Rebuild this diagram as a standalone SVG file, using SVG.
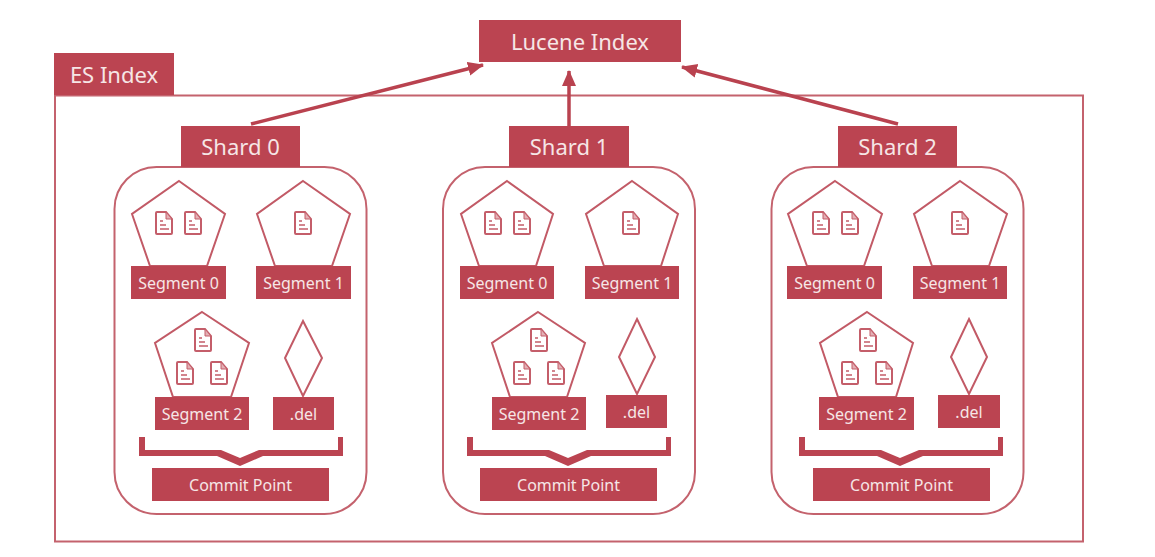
<svg xmlns="http://www.w3.org/2000/svg" xmlns:xlink="http://www.w3.org/1999/xlink" width="1155" height="557" viewBox="0 0 1155 557">
<style>
.b{fill:#bb4451}
.o{fill:none;stroke:#c4626d;stroke-width:2}
.p{fill:#fff;stroke:#c25a66;stroke-width:2;stroke-linejoin:miter}
.c{fill:none;stroke:#b9424f;stroke-width:3.5}
text{font-family:"Noto Sans","Open Sans","Liberation Sans",sans-serif;fill:#f6e6e6;text-anchor:middle}
.t1{font-size:22px}
.t2{font-size:16px}
.t3{font-size:16px}
</style>
<defs>
<marker id="ah" markerWidth="20" markerHeight="18" refX="15" refY="7" orient="auto" markerUnits="userSpaceOnUse"><path d="M0 0L16 7L0 14Z" fill="#b9424f"/></marker>
<g id="doc" fill="none" stroke="#c45e6a" stroke-width="2"><path d="M1 2Q1 1 2 1H11L17 8V22Q17 23 16 23H2Q1 23 1 22Z"/><path d="M11 1L17 8H11Z" fill="#e3b0b5" stroke-width="1"/><path d="M5 10H8M5 14H11M5 18H14" stroke-width="1.500"/></g>
<g id="brace"><path class="b" d="M0 0H6V13H82L101 21L120 13H199V0H204V19H124L101 29L78 19H0Z"/></g>
</defs>
<rect width="1155" height="557" fill="#fff"/>
<g id="es-index"><rect class="o" x="55" y="95.500" width="1028" height="446"/><rect class="b" x="54" y="53" width="120" height="42"/><text class="t1" x="114" y="83">ES Index</text></g>
<g id="connectors">
<path class="c" d="M251 124L483 65" marker-end="url(#ah)"/>
<path class="c" d="M569 126V71" marker-end="url(#ah)"/>
<path class="c" d="M898 124L682 67" marker-end="url(#ah)"/>
</g>
<g id="lucene-index"><rect class="b" x="479" y="20" width="202" height="42"/><text class="t1" x="580" y="50">Lucene Index</text></g>

<g id="shard-0">
<rect class="o" x="114.500" y="167" width="252" height="347" rx="42"/>
<rect class="b" x="181" y="126" width="119" height="41"/><text class="t1" x="240.500" y="155">Shard 0</text>
<g id="s0-segment-0"><path class="p" d="M179 181L225 214L207 266H150L132 214Z"/><use xlink:href="#doc" x="155" y="211"/><use xlink:href="#doc" x="184" y="211"/><rect class="b" x="131" y="266" width="95" height="33"/><text class="t2" x="178.500" y="289">Segment 0</text></g>
<g id="s0-segment-1"><path class="p" d="M303 181L350 214L332 266H275L257 214Z"/><use xlink:href="#doc" x="294" y="211"/><rect class="b" x="256" y="266" width="95" height="33"/><text class="t2" x="303.500" y="289">Segment 1</text></g>
<g id="s0-segment-2"><path class="p" d="M202 312L249 343L231 397H173L155 343Z"/><use xlink:href="#doc" x="194" y="328"/><use xlink:href="#doc" x="176" y="361"/><use xlink:href="#doc" x="210" y="361"/><rect class="b" x="155" y="397" width="94" height="33"/><text class="t2" x="202" y="420">Segment 2</text></g>
<g id="s0-del"><path class="p" d="M303 321L322 358L303 396L285 358Z"/><rect class="b" x="273" y="397" width="61" height="33"/><text class="t2" x="303.500" y="420">.del</text></g>
<use xlink:href="#brace" x="139" y="437"/>
<g id="s0-commit"><rect class="b" x="152" y="468" width="177" height="33"/><text class="t3" x="240.500" y="491">Commit Point</text></g>
</g>

<g id="shard-1">
<rect class="o" x="443" y="167" width="252" height="347" rx="42"/>
<rect class="b" x="509" y="126" width="120" height="41"/><text class="t1" x="569" y="155">Shard 1</text>
<g id="s1-segment-0"><path class="p" d="M507 181L553 214L536 266H479L461 214Z"/><use xlink:href="#doc" x="484" y="211"/><use xlink:href="#doc" x="513" y="211"/><rect class="b" x="460" y="266" width="94" height="33"/><text class="t2" x="507" y="289">Segment 0</text></g>
<g id="s1-segment-1"><path class="p" d="M632 181L678 214L661 266H604L586 214Z"/><use xlink:href="#doc" x="622" y="211"/><rect class="b" x="585" y="266" width="94" height="33"/><text class="t2" x="632" y="289">Segment 1</text></g>
<g id="s1-segment-2"><path class="p" d="M538 312L585 343L567 397H510L492 343Z"/><use xlink:href="#doc" x="530" y="328"/><use xlink:href="#doc" x="513" y="361"/><use xlink:href="#doc" x="547" y="361"/><rect class="b" x="492" y="397" width="94" height="33"/><text class="t2" x="539" y="420">Segment 2</text></g>
<g id="s1-del"><path class="p" d="M637 319L655 357L637 394L619 357Z"/><rect class="b" x="606" y="395" width="61" height="33"/><text class="t2" x="636.500" y="418">.del</text></g>
<use xlink:href="#brace" x="467" y="437"/>
<g id="s1-commit"><rect class="b" x="480" y="468" width="177" height="33"/><text class="t3" x="568.500" y="491">Commit Point</text></g>
</g>

<g id="shard-2">
<rect class="o" x="771.500" y="167" width="252" height="347" rx="42"/>
<rect class="b" x="838" y="126" width="119" height="41"/><text class="t1" x="897.500" y="155">Shard 2</text>
<g id="s2-segment-0"><path class="p" d="M835 181L882 214L864 266H807L788 214Z"/><use xlink:href="#doc" x="812" y="211"/><use xlink:href="#doc" x="841" y="211"/><rect class="b" x="787" y="266" width="95" height="33"/><text class="t2" x="834.500" y="289">Segment 0</text></g>
<g id="s2-segment-1"><path class="p" d="M960 181L1007 214L989 266H932L914 214Z"/><use xlink:href="#doc" x="951" y="211"/><rect class="b" x="913" y="266" width="94" height="33"/><text class="t2" x="960" y="289">Segment 1</text></g>
<g id="s2-segment-2"><path class="p" d="M867 312L913 343L896 397H838L820 343Z"/><use xlink:href="#doc" x="859" y="328"/><use xlink:href="#doc" x="841" y="361"/><use xlink:href="#doc" x="875" y="361"/><rect class="b" x="819" y="397" width="95" height="33"/><text class="t2" x="866.500" y="420">Segment 2</text></g>
<g id="s2-del"><path class="p" d="M969 319L987 357L969 394L951 357Z"/><rect class="b" x="938" y="395" width="62" height="33"/><text class="t2" x="969" y="418">.del</text></g>
<use xlink:href="#brace" x="799" y="437"/>
<g id="s2-commit"><rect class="b" x="813" y="468" width="177" height="33"/><text class="t3" x="901.500" y="491">Commit Point</text></g>
</g>
</svg>
